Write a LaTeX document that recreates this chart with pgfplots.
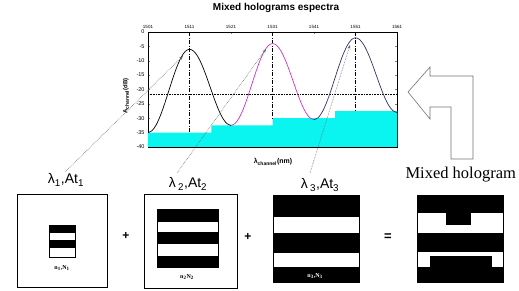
\documentclass[border=0pt]{standalone}
\usepackage{fontspec}
\setmainfont{Liberation Sans}
\newfontfamily\seriffont{Liberation Serif}
\usepackage{pgfplots}
\pgfplotsset{compat=1.18}
\usetikzlibrary{arrows.meta}
\definecolor{cyanfill}{RGB}{10,245,240}
\definecolor{pinkc}{RGB}{204,51,204}
\definecolor{navyc}{RGB}{51,51,102}
\begin{document}
\begin{tikzpicture}
\path[use as bounding box] (0,0) rectangle (519pt,-291pt);
\begin{axis}[
  at={(148pt,-147pt)}, anchor=south west,
  width=249pt, height=115pt, scale only axis,
  xmin=1501, xmax=1561, ymin=-40, ymax=0,
  xtick={1501,1511,1521,1531,1541,1551,1561},
  ytick={-40,-35,-30,-25,-20,-15,-10,-5,0},
  xticklabel pos=right,
  /pgf/number format/assume math mode=true,
  xticklabel style={font=\fontsize{4.5}{4.5}\selectfont, /pgf/number format/1000 sep={}},
  yticklabel style={font=\fontsize{5.5}{5.5}\selectfont},
  major tick length=2pt,
  axis line style={line width=0.7pt},
]
\addplot[draw=none, fill=cyanfill] coordinates {(1501,-40)(1501,-35)(1516.3,-35)(1516.3,-32.5)(1531,-32.5)(1531,-30)(1546,-30)(1546,-27.5)(1561,-27.5)(1561,-40)(1501,-40)};
\addplot[black, dash pattern=on 4pt off 1.5pt on 1pt off 1.5pt, line width=0.6pt] coordinates {(1511,0)(1511,-35)};
\addplot[black, dash pattern=on 4pt off 1.5pt on 1pt off 1.5pt, line width=0.6pt] coordinates {(1531,0)(1531,-30)};
\addplot[black, dash pattern=on 4pt off 1.5pt on 1pt off 1.5pt, line width=0.6pt] coordinates {(1551,0)(1551,-27.5)};
\addplot[black, densely dotted, line width=0.6pt] coordinates {(1501,-21.5)(1561,-21.5)};
\addplot[black, smooth, line width=0.7pt] coordinates {(1501,-35)(1502,-34.29)(1503,-32.23)(1504,-29.02)(1505,-24.98)(1506,-20.5)(1507,-16.02)(1508,-11.98)(1509,-8.77)(1510,-6.71)(1511,-6)(1512,-6.65)(1513,-8.53)(1514,-11.46)(1515,-15.16)(1516,-19.25)(1517,-23.34)(1518,-27.04)(1519,-29.97)(1520,-31.85)(1521,-32.5)};
\addplot[pinkc, smooth, line width=0.7pt] coordinates {(1521,-32.5)(1522,-31.8)(1523,-29.78)(1524,-26.63)(1525,-22.65)(1526,-18.25)(1527,-13.85)(1528,-9.87)(1529,-6.72)(1530,-4.7)(1531,-4)(1532,-4.65)(1533,-6.53)(1534,-9.46)(1535,-13.16)(1536,-17.25)(1537,-21.34)(1538,-25.04)(1539,-27.97)(1540,-29.85)(1541,-30.5)};
\addplot[navyc, smooth, line width=0.7pt] coordinates {(1541,-30.5)(1542,-29.8)(1543,-27.78)(1544,-24.63)(1545,-20.65)(1546,-16.25)(1547,-11.85)(1548,-7.87)(1549,-4.72)(1550,-2.7)(1551,-2)(1552,-2.64)(1553,-4.48)(1554,-7.36)(1555,-10.98)(1556,-15)(1557,-19.02)(1558,-22.64)(1559,-25.52)(1560,-27.36)(1561,-28)};
\end{axis}
\begin{scope}[x=1pt, y=-1pt]
% axis texts
\node[font=\bfseries\fontsize{10}{10}\selectfont] at (276,8) {Mixed holograms espectra};
\node[font=\bfseries\fontsize{7}{7}\selectfont] at (273,162) {λ\textsubscript{channel}(nm)};
\node[font=\bfseries\fontsize{6}{6}\selectfont, rotate=90] at (126,96) {A\textsubscript{channel}(dB)};
% pointer lines
\draw[densely dotted, black!60, line width=0.6pt, -{Stealth[length=4pt,width=3pt]}] (65,172) -- (183,56);
\draw[densely dotted, black!60, line width=0.6pt, -{Stealth[length=4pt,width=3pt]}] (177,173) -- (266,49);
\draw[densely dotted, black!60, line width=0.6pt, -{Stealth[length=4pt,width=3pt]}] (310,173) -- (350,45);
% hollow arrow
\draw[black!55, line width=0.6pt, fill=white] (408,92)--(430,67)--(430,76)--(473,76)--(473,159)--(451,159)--(451,107)--(430,107)--(430,119)--cycle;
% labels
\node[font=\fontsize{14}{14}\selectfont] at (66,180) {λ\textsubscript{1},At\textsubscript{1}};
\node[font=\fontsize{14}{14}\selectfont] at (188,184) {λ\,\textsubscript{2},At\textsubscript{2}};
\node[font=\fontsize{14}{14}\selectfont] at (320,185) {λ\,\textsubscript{3},At\textsubscript{3}};
\node[font=\seriffont\fontsize{16.5}{16.5}\selectfont, anchor=west] at (402,175) {Mixed hologram};
% box 1
\draw[line width=0.6pt] (17,194) rectangle (107,287);
\fill (49,225) rectangle (75,233);
\fill (49,240) rectangle (75,248);
\draw[line width=0.4pt] (49,225) rectangle (75,257);
\node[font=\seriffont\bfseries\fontsize{6}{6}\selectfont] at (62,268) {n\textsubscript{1},N\textsubscript{1}};
\node[font=\bfseries\fontsize{12}{12}\selectfont] at (126,236) {+};
% box 2
\draw[line width=0.6pt] (144,194) rectangle (237,288);
\fill (157,209) rectangle (218,222);
\fill (157,232) rectangle (218,244);
\fill (157,256) rectangle (218,267);
\draw[line width=0.4pt] (157,209) rectangle (218,267);
\node[font=\seriffont\bfseries\fontsize{6}{6}\selectfont] at (187,277) {n\textsubscript{2}N\textsubscript{2}};
\node[font=\bfseries\fontsize{12}{12}\selectfont] at (248,237) {+};
% box 3
\fill (273,195) rectangle (359,217);
\fill (273,233) rectangle (359,253);
\fill (273,267) rectangle (359,282);
\draw[line width=0.4pt] (273,195) rectangle (359,282);
\node[white, font=\seriffont\bfseries\fontsize{6}{6}\selectfont] at (315,276) {n\textsubscript{3},N\textsubscript{3}};
\node[font=\bfseries\fontsize{13}{13}\selectfont] at (388,237) {=};
% box 4
\fill (417,195) rectangle (503,213);
\fill (446,213) rectangle (471,225);
\fill (417,233) rectangle (503,252);
\fill (430,256) rectangle (492,267);
\fill (417,267) rectangle (503,282);
\draw[line width=0.4pt] (417,195) rectangle (503,282);
\end{scope}
\end{tikzpicture}
\end{document}
